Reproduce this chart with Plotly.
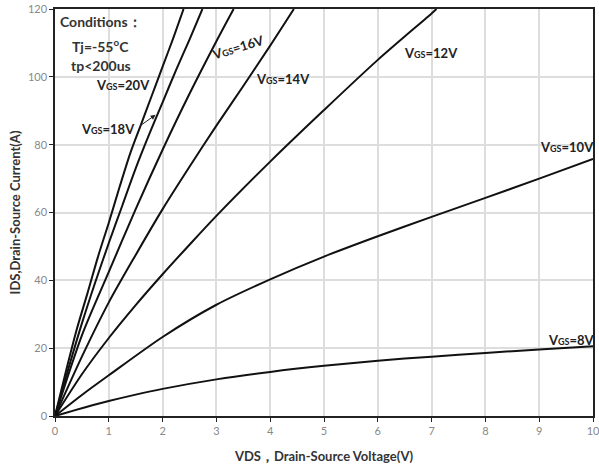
import plotly.graph_objects as go

# Data
v20 = [0, 0.2, 0.4, 0.6, 0.8, 1.0, 1.2, 1.4, 1.6, 1.8, 2.0, 2.2, 2.39]
i20 = [0, 13, 25.3, 36, 47, 57, 67.5, 77.5, 86, 94.5, 103, 111.5, 120]
v18 = [0, 0.25, 0.5, 0.75, 1.0, 1.25, 1.5, 1.75, 2.0, 2.25, 2.5, 2.74]
i18 = [0, 14, 27.3, 39.5, 51, 62, 73, 83, 92.5, 102, 111, 120]
v16 = [0, 0.5, 1.0, 1.5, 2.0, 2.5, 3.0, 3.32]
i16 = [0, 23.8, 42.5, 61, 78.5, 95, 110.5, 120]
v14 = [0, 0.5, 1.0, 1.5, 2.0, 2.5, 3.0, 3.5, 4.0, 4.44]
i14 = [0, 17.5, 33.5, 47.5, 61, 73.5, 85.6, 97.3, 109.2, 120]
v12 = [0, 0.5, 1, 1.5, 2, 2.5, 3, 4, 5, 6, 7, 7.09]
i12 = [0, 12.3, 23, 32.7, 41.8, 50.5, 59, 75, 90.2, 105, 118.7, 120]
v10 = [0, 0.5, 1, 2, 3, 4, 5, 6, 7, 8, 9, 10]
i10 = [0, 6.2, 12, 23.3, 32.8, 40.3, 47, 53, 58.7, 64.3, 70, 75.8]
v8 = [0, 0.5, 1, 1.5, 2, 3, 4, 5, 6, 7, 8, 9, 10]
i8 = [0, 2.3, 4.4, 6.3, 8, 10.8, 13, 14.8, 16.3, 17.5, 18.6, 19.6, 20.6]

x_ticks = [0, 1, 2, 3, 4, 5, 6, 7, 8, 9, 10]
y_ticks = [0, 20, 40, 60, 80, 100, 120]

series = [(v20, i20), (v18, i18), (v16, i16), (v14, i14), (v12, i12), (v10, i10), (v8, i8)]

fig = go.Figure()
for vx, iy in series:
    fig.add_trace(go.Scatter(x=vx, y=iy, mode="lines", line=dict(color="#111111", width=2, shape="spline", smoothing=0.8),
                             showlegend=False, hoverinfo="skip"))

LF = "Lato, 'Open Sans', sans-serif"
def vgs(v):
    return "<b>V<span style='font-size:9px'>GS</span>=%s</b>" % v

labels = [
    ("20V", 1.27, 97.6, 0),
    ("18V", 0.98, 84.7, 0),
    ("16V", 3.41, 108.8, -17),
    ("14V", 4.23, 99.4, 0),
    ("12V", 6.98, 107.1, 0),
    ("10V", 9.51, 79.4, 0),
    ("8V", 9.60, 22.4, 0),
]
ann = []
for t, x, y, ang in labels:
    ann.append(dict(x=x, y=y, text=vgs(t), showarrow=False, textangle=ang,
                    font=dict(family=LF, size=13, color="#222222")))
# arrow for 18V
ann.append(dict(x=1.87, y=88.8, ax=1.55, ay=85.2, axref="x", ayref="y", text="", showarrow=True,
                arrowhead=2, arrowsize=1, arrowwidth=1, arrowcolor="#222222"))
for t, y in [("Conditions：", 116.2), ("Tj=-55<sup>o</sup>C", 109.1), ("tp&lt;200us", 103.2)]:
    ann.append(dict(x=0.85, y=y, text="<b>%s</b>" % t, showarrow=False,
                    font=dict(family=LF, size=14, color="#333333")))

fig.update_layout(
    width=599, height=471,
    margin=dict(l=55, r=6, t=9, b=55, autoexpand=False),
    paper_bgcolor="white", plot_bgcolor="white",
    annotations=ann,
    xaxis=dict(range=[0, 10], tickvals=x_ticks, showgrid=True, gridcolor="#dddddd", gridwidth=1.5,
               showline=True, linecolor="#222222", linewidth=1.5, mirror=True,
               ticks="outside", ticklen=4, tickcolor="#222222", zeroline=False, automargin=False,
               ticklabeloverflow="allow",
               tickfont=dict(family=LF, size=11, color="#888888"),
               title=dict(text="<b>VDS，Drain-Source Voltage(V)</b>", font=dict(family=LF, size=13, color="#333333"), standoff=16)),
    yaxis=dict(range=[0, 120], tickvals=y_ticks, showgrid=True, gridcolor="#dddddd", gridwidth=1.5,
               showline=True, linecolor="#222222", linewidth=1.5, mirror=True,
               ticks="outside", ticklen=4, tickcolor="#222222", zeroline=False, automargin=False,
               ticklabeloverflow="allow",
               tickfont=dict(family=LF, size=11, color="#888888"),
               title=dict(text="<b>IDS,Drain-Source Current(A)</b>", font=dict(family=LF, size=13, color="#333333"), standoff=4)),
)
fig.write_html("out.html")
